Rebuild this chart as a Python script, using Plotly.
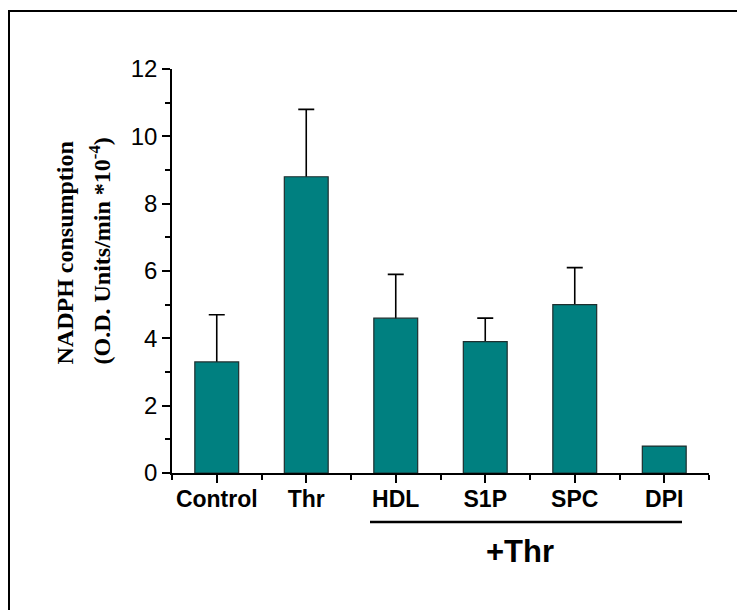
import plotly.graph_objects as go

# NADPH consumption per treatment group
categories = ["Control", "Thr", "HDL", "S1P", "SPC", "DPI"]
means = [3.3, 8.8, 4.6, 3.9, 5.0, 0.8]
errors = [1.4, 2.0, 1.3, 0.7, 1.1, 0.0]
y_ticks = [0, 2, 4, 6, 8, 10, 12]

W, H = 737, 610
L, R, T, B = 172, 28, 69, 137
PW, PH = W - L - R, H - T - B


def px(x):
    return (x - L) / PW


def py(y):
    return (H - B - y) / PH


xpos = list(range(len(categories)))
teal = "#008080"
bar_w = 0.49

fig = go.Figure()

# error whiskers: symmetric bars on a transparent trace, lower half hidden
# underneath the filled bars drawn afterwards
err_idx = [i for i, e in enumerate(errors) if e > 0]
fig.add_trace(go.Bar(
    x=[xpos[i] for i in err_idx],
    y=[means[i] for i in err_idx],
    width=bar_w,
    marker=dict(color="rgba(0,0,0,0)", line=dict(width=0)),
    error_y=dict(type="data", symmetric=True,
                 array=[errors[i] for i in err_idx],
                 color="black", thickness=1.6, width=8),
    hoverinfo="skip", showlegend=False,
))

fig.add_trace(go.Bar(
    x=xpos, y=means, width=bar_w,
    marker=dict(color=teal, line=dict(color="#1e2e2e", width=1.2)),
    showlegend=False,
))

fig.update_layout(
    width=W, height=H,
    margin=dict(l=L, r=R, t=T, b=B),
    paper_bgcolor="white", plot_bgcolor="white",
    barmode="overlay",
    font=dict(family="Liberation Sans, Arial", color="black"),
)

fig.update_xaxes(
    range=[-0.5, len(categories) - 0.5],
    tickmode="array", tickvals=xpos, ticktext=categories,
    ticks="outside", ticklen=8, tickwidth=1.5, tickcolor="black",
    tickfont=dict(family="Liberation Sans, Arial", size=23, color="black",
                  weight="bold"),
    ticklabelstandoff=-3,
    minor=dict(ticks="outside", tick0=-0.5, dtick=1, ticklen=5,
               tickwidth=1.5, tickcolor="black"),
    showline=True, linecolor="black", linewidth=1.6,
    showgrid=False, zeroline=False,
)

fig.update_yaxes(
    range=[0, 12],
    tickmode="array", tickvals=y_ticks,
    ticks="outside", ticklen=8, tickwidth=1.5, tickcolor="black",
    tickfont=dict(family="Liberation Sans, Arial", size=24, color="black"),
    ticklabelstandoff=0,
    minor=dict(ticks="outside", tick0=0, dtick=1, ticklen=5,
               tickwidth=1.5, tickcolor="black"),
    showline=True, linecolor="black", linewidth=1.6,
    showgrid=False, zeroline=False,
)

title_font = dict(family="Liberation Serif, Times New Roman", size=24,
                  color="black", weight="bold")
fig.add_annotation(text="NADPH consumption", xref="paper", yref="paper",
                   x=px(64), y=py(367), xanchor="center", yanchor="bottom",
                   textangle=-90, showarrow=False, font=title_font)
fig.add_annotation(text="(O.D. Units/min *10<sup>-4</sup>)", xref="paper",
                   yref="paper", x=px(99), y=py(367), xanchor="center",
                   yanchor="bottom", textangle=-90, showarrow=False,
                   font=title_font)

# bracket marking the thrombin-treated groups
fig.add_shape(type="line", xref="paper", yref="paper",
              x0=px(370), x1=px(682), y0=py(522), y1=py(522),
              line=dict(color="black", width=2.5))
fig.add_annotation(text="+Thr", xref="paper", yref="paper",
                   x=px(520), y=py(551), xanchor="center", yanchor="middle",
                   showarrow=False,
                   font=dict(family="Liberation Sans, Arial", size=31,
                             color="black", weight="bold"))

# outer frame (top and left edges)
fig.add_shape(type="line", xref="paper", yref="paper",
              x0=px(8), x1=px(W + 5), y0=py(11), y1=py(11),
              line=dict(color="black", width=2))
fig.add_shape(type="line", xref="paper", yref="paper",
              x0=px(9), x1=px(9), y0=py(10), y1=py(H + 5),
              line=dict(color="black", width=2))

fig.write_html("out.html")
